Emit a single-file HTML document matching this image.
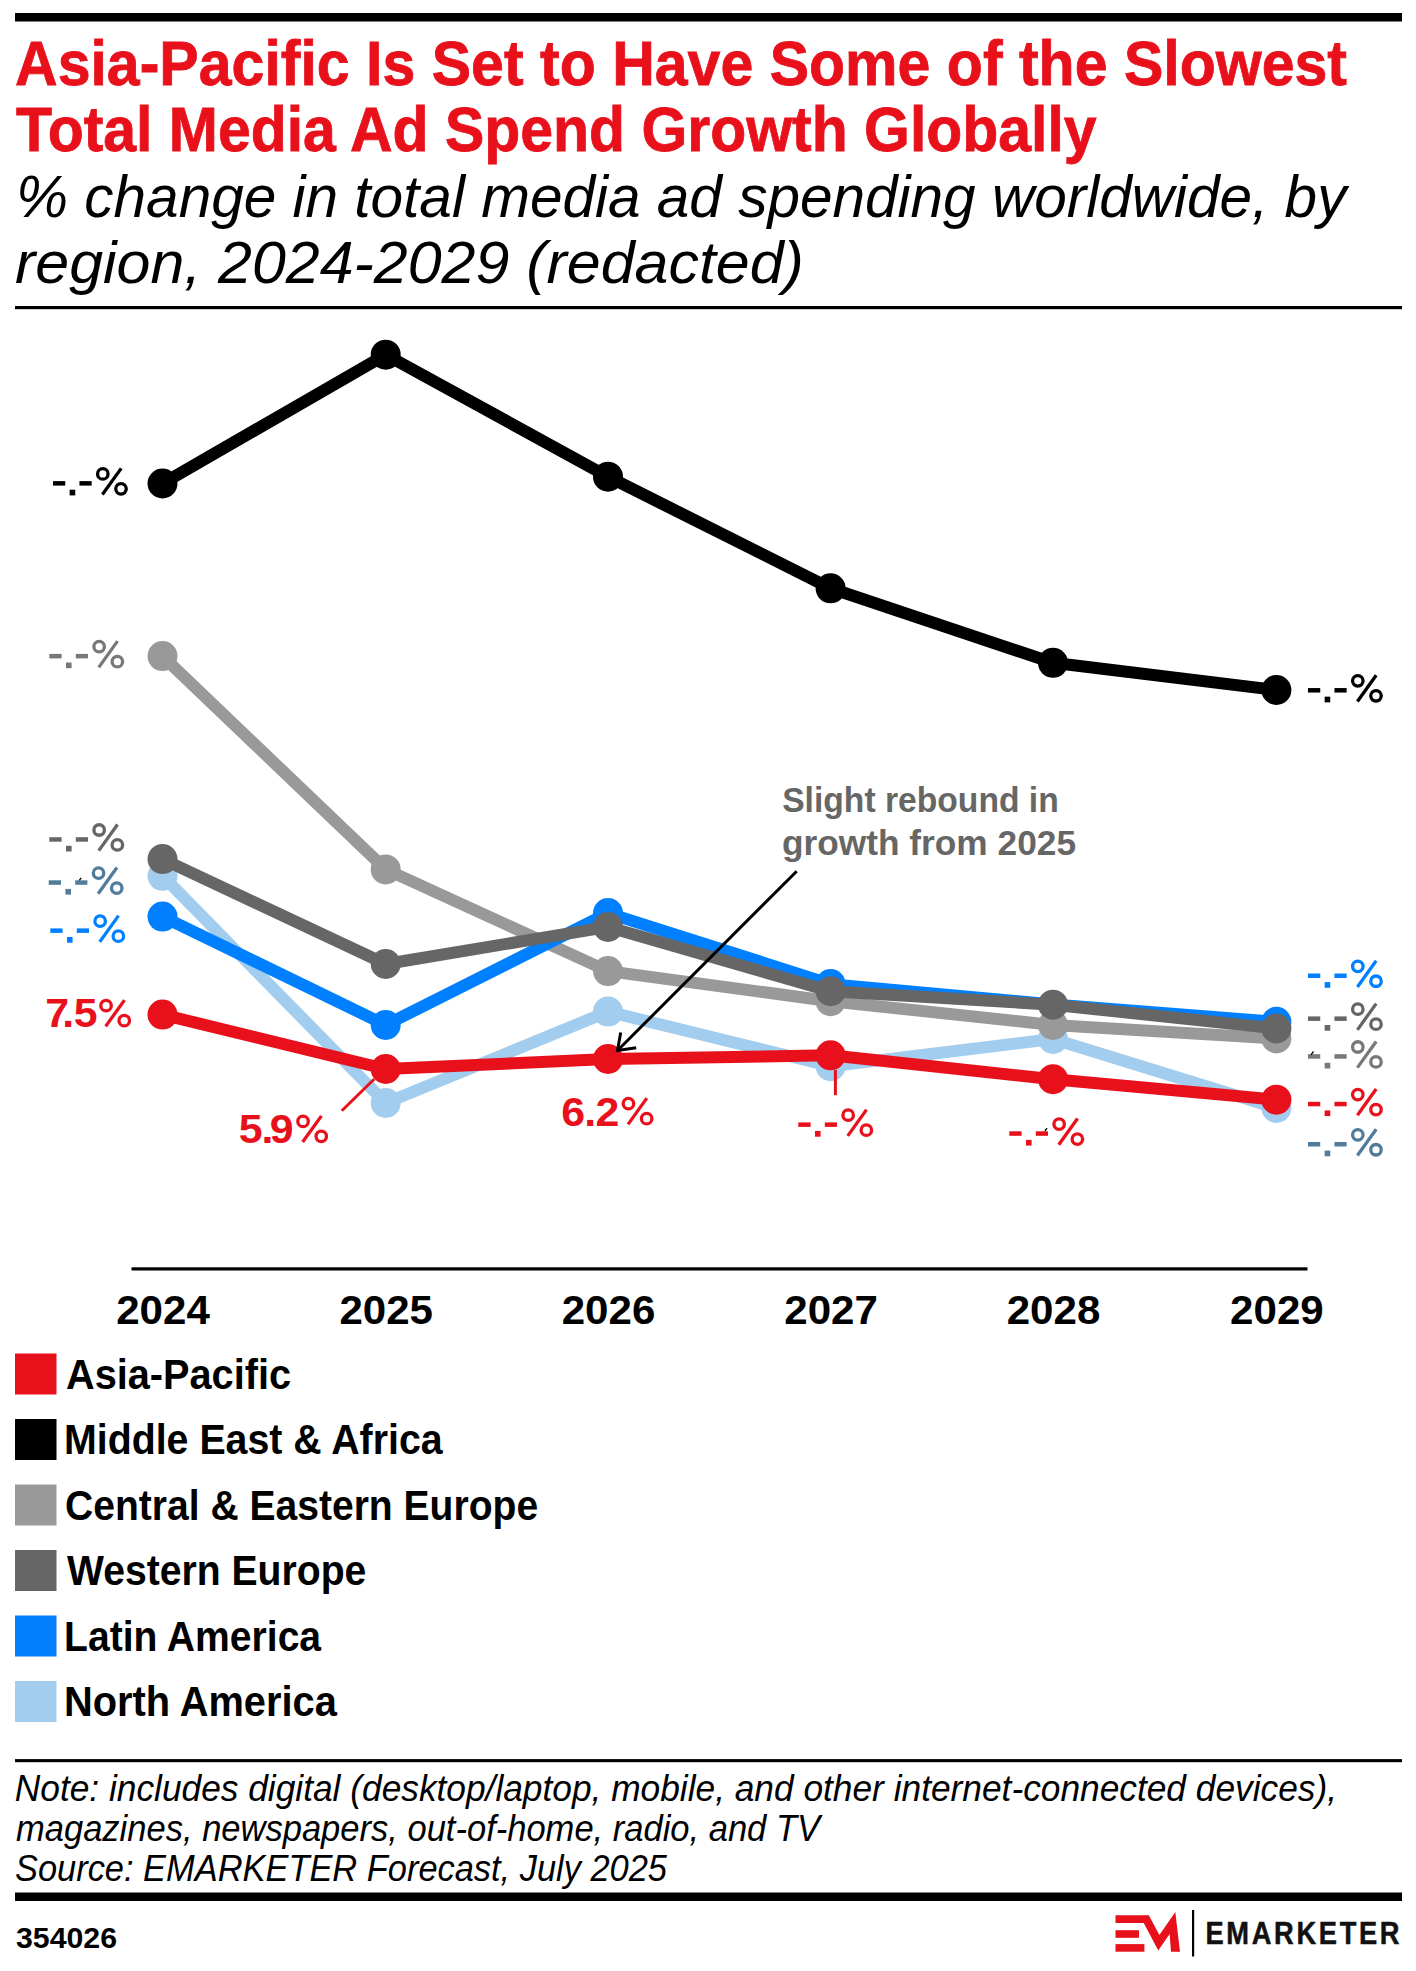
<!DOCTYPE html>
<html><head><meta charset="utf-8"><style>
html,body{margin:0;padding:0;background:#fff;overflow:hidden;}
svg{display:block;}
text{font-family:"Liberation Sans",sans-serif;}
</style></head><body>
<svg width="1416" height="1971" viewBox="0 0 1416 1971">
<rect x="0" y="0" width="1416" height="1971" fill="#fff"/>

<rect x="15" y="13" width="1387" height="8.5" fill="#000"/>
<rect x="15" y="306" width="1387" height="3.2" fill="#000"/>
<rect x="131.5" y="1267.3" width="1176" height="3.2" fill="#000"/>
<rect x="15" y="1759.1" width="1387" height="3.1" fill="#000"/>
<rect x="15" y="1892.5" width="1387" height="8.5" fill="#000"/>

<polyline points="162.5,875.8 385.7,1103.0 608.0,1011.6 830.6,1066.2 1053.0,1039.0 1276.4,1108.0" fill="none" stroke="#a3cdee" stroke-width="12" stroke-linejoin="round"/>
<circle cx="162.5" cy="875.8" r="15" fill="#a3cdee"/>
<circle cx="385.7" cy="1103.0" r="15" fill="#a3cdee"/>
<circle cx="608.0" cy="1011.6" r="15" fill="#a3cdee"/>
<circle cx="830.6" cy="1066.2" r="15" fill="#a3cdee"/>
<circle cx="1053.0" cy="1039.0" r="15" fill="#a3cdee"/>
<circle cx="1276.4" cy="1108.0" r="15" fill="#a3cdee"/>
<polyline points="162.5,656.1 385.7,869.4 608.0,971.1 830.6,1001.2 1053.0,1025.0 1276.4,1038.4" fill="none" stroke="#999999" stroke-width="12" stroke-linejoin="round"/>
<circle cx="162.5" cy="656.1" r="15" fill="#999999"/>
<circle cx="385.7" cy="869.4" r="15" fill="#999999"/>
<circle cx="608.0" cy="971.1" r="15" fill="#999999"/>
<circle cx="830.6" cy="1001.2" r="15" fill="#999999"/>
<circle cx="1053.0" cy="1025.0" r="15" fill="#999999"/>
<circle cx="1276.4" cy="1038.4" r="15" fill="#999999"/>
<polyline points="162.5,916.6 385.7,1025.0 608.0,913.1 830.6,984.1 1053.0,1004.5 1276.4,1021.8" fill="none" stroke="#0080ff" stroke-width="12" stroke-linejoin="round"/>
<circle cx="162.5" cy="916.6" r="15" fill="#0080ff"/>
<circle cx="385.7" cy="1025.0" r="15" fill="#0080ff"/>
<circle cx="608.0" cy="913.1" r="15" fill="#0080ff"/>
<circle cx="830.6" cy="984.1" r="15" fill="#0080ff"/>
<circle cx="1053.0" cy="1004.5" r="14" fill="#0080ff"/>
<circle cx="1276.4" cy="1021.8" r="15" fill="#0080ff"/>
<polyline points="162.5,859.1 385.7,964.0 608.0,926.9 830.6,991.2 1053.0,1004.7 1276.4,1028.5" fill="none" stroke="#666666" stroke-width="12" stroke-linejoin="round"/>
<circle cx="162.5" cy="859.1" r="15" fill="#666666"/>
<circle cx="385.7" cy="964.0" r="15" fill="#666666"/>
<circle cx="608.0" cy="926.9" r="15" fill="#666666"/>
<circle cx="830.6" cy="991.2" r="15" fill="#666666"/>
<circle cx="1053.0" cy="1004.7" r="15" fill="#666666"/>
<circle cx="1276.4" cy="1028.5" r="15" fill="#666666"/>
<polyline points="162.5,483.5 385.7,354.7 608.0,476.7 830.6,588.3 1053.0,662.8 1276.4,690.0" fill="none" stroke="#000000" stroke-width="12" stroke-linejoin="round"/>
<circle cx="162.5" cy="483.5" r="15" fill="#000000"/>
<circle cx="385.7" cy="354.7" r="15" fill="#000000"/>
<circle cx="608.0" cy="476.7" r="15" fill="#000000"/>
<circle cx="830.6" cy="588.3" r="15" fill="#000000"/>
<circle cx="1053.0" cy="662.8" r="15" fill="#000000"/>
<circle cx="1276.4" cy="690.0" r="15" fill="#000000"/>
<polyline points="162.5,1014.6 385.7,1069.0 608.0,1059.0 830.6,1055.3 1053.0,1079.2 1276.4,1099.7" fill="none" stroke="#e8111b" stroke-width="12" stroke-linejoin="round"/>
<circle cx="162.5" cy="1014.6" r="15" fill="#e8111b"/>
<circle cx="385.7" cy="1069.0" r="15" fill="#e8111b"/>
<circle cx="608.0" cy="1059.0" r="15" fill="#e8111b"/>
<circle cx="830.6" cy="1055.3" r="15" fill="#e8111b"/>
<circle cx="1053.0" cy="1079.2" r="15" fill="#e8111b"/>
<circle cx="1276.4" cy="1099.7" r="15" fill="#e8111b"/>

<line x1="341.8" y1="1110.7" x2="374.3" y2="1079" stroke="#e8111b" stroke-width="3"/>
<line x1="835.4" y1="1070" x2="835.4" y2="1095.2" stroke="#e8111b" stroke-width="3"/>
<polyline points="796.7,871.2 617.5,1050.5" fill="none" stroke="#000" stroke-width="3"/>
<polyline points="620.7,1032.4 617.5,1050.5 636.2,1047.8" fill="none" stroke="#000" stroke-width="3"/>

<rect x="15" y="1353.5" width="41.5" height="41" fill="#e8111b"/><rect x="15" y="1419.0" width="41.5" height="41" fill="#000"/><rect x="15" y="1484.5" width="41.5" height="41" fill="#999999"/><rect x="15" y="1550.0" width="41.5" height="41" fill="#666666"/><rect x="15" y="1615.5" width="41.5" height="41" fill="#0080ff"/><rect x="15" y="1681.0" width="41.5" height="41" fill="#a3cdee"/>

<polygon fill="#e8111b" points="1115.5,1915.2 1148.8,1915.2 1159.4,1935 1175.3,1912 1180,1951.7 1171,1951.7 1169.6,1933.9 1158.3,1950.5 1143.7,1923 1115.5,1923"/>
<rect x="1115.5" y="1930.2" width="23.5" height="7.6" fill="#e8111b"/>
<rect x="1115.5" y="1944.1" width="28.9" height="7.6" fill="#e8111b"/>
<rect x="1192" y="1910" width="2.2" height="46.5" fill="#000"/>

<text x="15.00" y="84.50" font-size="62.5" fill="#e8111b" font-weight="bold" font-style="normal" textLength="1332.00" lengthAdjust="spacingAndGlyphs" stroke="#e8111b" stroke-width="0.8">Asia-Pacific Is Set to Have Some of the Slowest</text>
<text x="16.00" y="150.60" font-size="62.5" fill="#e8111b" font-weight="bold" font-style="normal" textLength="1080.60" lengthAdjust="spacingAndGlyphs" stroke="#e8111b" stroke-width="0.8">Total Media Ad Spend Growth Globally</text>
<text x="16.00" y="216.80" font-size="58.3" fill="#000" font-weight="normal" font-style="italic" textLength="1330.40" lengthAdjust="spacingAndGlyphs" >% change in total media ad spending worldwide, by</text>
<text x="15.00" y="283.00" font-size="58.3" fill="#000" font-weight="normal" font-style="italic" textLength="788.83" lengthAdjust="spacingAndGlyphs" >region, 2024-2029 (redacted)</text>
<text x="782.20" y="811.80" font-size="35.5" fill="#666666" font-weight="bold" font-style="normal" textLength="276.53" lengthAdjust="spacingAndGlyphs" >Slight rebound in</text>
<text x="782.00" y="854.70" font-size="35.5" fill="#666666" font-weight="bold" font-style="normal" textLength="294.01" lengthAdjust="spacingAndGlyphs" >growth from 2025</text>
<text x="14.80" y="1801.10" font-size="36.3" fill="#000" font-weight="normal" font-style="italic" textLength="1322.22" lengthAdjust="spacingAndGlyphs" >Note: includes digital (desktop/laptop, mobile, and other internet-connected devices),</text>
<text x="16.00" y="1841.10" font-size="36.3" fill="#000" font-weight="normal" font-style="italic" textLength="804.01" lengthAdjust="spacingAndGlyphs" >magazines, newspapers, out-of-home, radio, and TV</text>
<text x="15.00" y="1881.10" font-size="36.3" fill="#000" font-weight="normal" font-style="italic" textLength="652.00" lengthAdjust="spacingAndGlyphs" >Source: EMARKETER Forecast, July 2025</text>
<text x="16.00" y="1947.50" font-size="29.1" fill="#000" font-weight="bold" font-style="normal" textLength="101.01" lengthAdjust="spacingAndGlyphs" >354026</text>
<text x="1205.40" y="1944.20" font-size="30.5" fill="#111111" font-weight="bold" font-style="normal" textLength="196.83" lengthAdjust="spacingAndGlyphs" letter-spacing="3" stroke="#111111" stroke-width="0.5">EMARKETER</text>
<text x="66.00" y="1388.80" font-size="42" fill="#000" font-weight="bold" font-style="normal" textLength="225.04" lengthAdjust="spacingAndGlyphs" >Asia-Pacific</text>
<text x="64.00" y="1454.30" font-size="42" fill="#000" font-weight="bold" font-style="normal" textLength="378.61" lengthAdjust="spacingAndGlyphs" >Middle East &amp; Africa</text>
<text x="65.00" y="1519.80" font-size="42" fill="#000" font-weight="bold" font-style="normal" textLength="473.11" lengthAdjust="spacingAndGlyphs" >Central &amp; Eastern Europe</text>
<text x="67.00" y="1585.30" font-size="42" fill="#000" font-weight="bold" font-style="normal" textLength="299.31" lengthAdjust="spacingAndGlyphs" >Western Europe</text>
<text x="64.00" y="1650.80" font-size="42" fill="#000" font-weight="bold" font-style="normal" textLength="257.12" lengthAdjust="spacingAndGlyphs" >Latin America</text>
<text x="64.00" y="1716.30" font-size="42" fill="#000" font-weight="bold" font-style="normal" textLength="272.82" lengthAdjust="spacingAndGlyphs" >North America</text>
<text x="163.00" y="1324" font-size="40.3" fill="#000" font-weight="bold" text-anchor="middle" textLength="93.6" lengthAdjust="spacingAndGlyphs">2024</text>
<text x="386.20" y="1324" font-size="40.3" fill="#000" font-weight="bold" text-anchor="middle" textLength="93.6" lengthAdjust="spacingAndGlyphs">2025</text>
<text x="608.50" y="1324" font-size="40.3" fill="#000" font-weight="bold" text-anchor="middle" textLength="93.6" lengthAdjust="spacingAndGlyphs">2026</text>
<text x="831.10" y="1324" font-size="40.3" fill="#000" font-weight="bold" text-anchor="middle" textLength="93.6" lengthAdjust="spacingAndGlyphs">2027</text>
<text x="1053.50" y="1324" font-size="40.3" fill="#000" font-weight="bold" text-anchor="middle" textLength="93.6" lengthAdjust="spacingAndGlyphs">2028</text>
<text x="1276.90" y="1324" font-size="40.3" fill="#000" font-weight="bold" text-anchor="middle" textLength="93.6" lengthAdjust="spacingAndGlyphs">2029</text>
<circle cx="102.80" cy="473.90" r="5.25" fill="none" stroke="#000" stroke-width="3.3"/><circle cx="121.00" cy="488.85" r="5.25" fill="none" stroke="#000" stroke-width="3.3"/><line x1="102.40" y1="494.54" x2="121.20" y2="468.34" stroke="#000" stroke-width="3.3"/><rect x="52.95" y="481.10" width="12.3" height="4.5" fill="#000"/><rect x="69.65" y="489.70" width="5.6" height="5.7" fill="#000"/><rect x="79.45" y="481.10" width="12.2" height="4.5" fill="#000"/>
<circle cx="99.15" cy="646.70" r="5.25" fill="none" stroke="#787878" stroke-width="3.3"/><circle cx="117.35" cy="661.65" r="5.25" fill="none" stroke="#787878" stroke-width="3.3"/><line x1="98.75" y1="667.34" x2="117.55" y2="641.14" stroke="#787878" stroke-width="3.3"/><rect x="49.30" y="653.90" width="12.3" height="4.5" fill="#787878"/><rect x="66.00" y="662.50" width="5.6" height="5.7" fill="#787878"/><rect x="75.80" y="653.90" width="12.2" height="4.5" fill="#787878"/>
<circle cx="99.15" cy="830.00" r="5.25" fill="none" stroke="#666666" stroke-width="3.3"/><circle cx="117.35" cy="844.95" r="5.25" fill="none" stroke="#666666" stroke-width="3.3"/><line x1="98.75" y1="850.64" x2="117.55" y2="824.44" stroke="#666666" stroke-width="3.3"/><rect x="49.30" y="837.20" width="12.3" height="4.5" fill="#666666"/><rect x="66.00" y="845.80" width="5.6" height="5.7" fill="#666666"/><rect x="75.80" y="837.20" width="12.2" height="4.5" fill="#666666"/>
<circle cx="98.55" cy="873.10" r="5.25" fill="none" stroke="#527c9c" stroke-width="3.3"/><circle cx="116.75" cy="888.05" r="5.25" fill="none" stroke="#527c9c" stroke-width="3.3"/><line x1="98.15" y1="893.74" x2="116.95" y2="867.54" stroke="#527c9c" stroke-width="3.3"/><rect x="48.70" y="880.30" width="12.3" height="4.5" fill="#527c9c"/><rect x="65.40" y="888.90" width="5.6" height="5.7" fill="#527c9c"/><rect x="75.20" y="880.30" width="12.2" height="4.5" fill="#527c9c"/>
<circle cx="100.15" cy="921.20" r="5.25" fill="none" stroke="#0080ff" stroke-width="3.3"/><circle cx="118.35" cy="936.15" r="5.25" fill="none" stroke="#0080ff" stroke-width="3.3"/><line x1="99.75" y1="941.84" x2="118.55" y2="915.64" stroke="#0080ff" stroke-width="3.3"/><rect x="50.30" y="928.40" width="12.3" height="4.5" fill="#0080ff"/><rect x="67.00" y="937.00" width="5.6" height="5.7" fill="#0080ff"/><rect x="76.80" y="928.40" width="12.2" height="4.5" fill="#0080ff"/>
<circle cx="848.15" cy="1115.20" r="5.25" fill="none" stroke="#e8111b" stroke-width="3.3"/><circle cx="866.35" cy="1130.15" r="5.25" fill="none" stroke="#e8111b" stroke-width="3.3"/><line x1="847.75" y1="1135.84" x2="866.55" y2="1109.64" stroke="#e8111b" stroke-width="3.3"/><rect x="798.30" y="1122.40" width="12.3" height="4.5" fill="#e8111b"/><rect x="815.00" y="1131.00" width="5.6" height="5.7" fill="#e8111b"/><rect x="824.80" y="1122.40" width="12.2" height="4.5" fill="#e8111b"/>
<circle cx="1059.15" cy="1124.10" r="5.25" fill="none" stroke="#e8111b" stroke-width="3.3"/><circle cx="1077.35" cy="1139.05" r="5.25" fill="none" stroke="#e8111b" stroke-width="3.3"/><line x1="1058.75" y1="1144.74" x2="1077.55" y2="1118.54" stroke="#e8111b" stroke-width="3.3"/><rect x="1009.30" y="1131.30" width="12.3" height="4.5" fill="#e8111b"/><rect x="1026.00" y="1139.90" width="5.6" height="5.7" fill="#e8111b"/><rect x="1035.80" y="1131.30" width="12.2" height="4.5" fill="#e8111b"/>
<circle cx="1357.80" cy="680.86" r="5.25" fill="none" stroke="#000" stroke-width="3.3"/><circle cx="1376.00" cy="695.81" r="5.25" fill="none" stroke="#000" stroke-width="3.3"/><line x1="1357.40" y1="701.50" x2="1376.20" y2="675.30" stroke="#000" stroke-width="3.3"/><rect x="1307.95" y="688.06" width="12.3" height="4.5" fill="#000"/><rect x="1324.65" y="696.66" width="5.6" height="5.7" fill="#000"/><rect x="1334.45" y="688.06" width="12.2" height="4.5" fill="#000"/>
<circle cx="1357.80" cy="966.30" r="5.25" fill="none" stroke="#0080ff" stroke-width="3.3"/><circle cx="1376.00" cy="981.25" r="5.25" fill="none" stroke="#0080ff" stroke-width="3.3"/><line x1="1357.40" y1="986.94" x2="1376.20" y2="960.74" stroke="#0080ff" stroke-width="3.3"/><rect x="1307.95" y="973.50" width="12.3" height="4.5" fill="#0080ff"/><rect x="1324.65" y="982.10" width="5.6" height="5.7" fill="#0080ff"/><rect x="1334.45" y="973.50" width="12.2" height="4.5" fill="#0080ff"/>
<circle cx="1357.80" cy="1009.20" r="5.25" fill="none" stroke="#666666" stroke-width="3.3"/><circle cx="1376.00" cy="1024.15" r="5.25" fill="none" stroke="#666666" stroke-width="3.3"/><line x1="1357.40" y1="1029.84" x2="1376.20" y2="1003.64" stroke="#666666" stroke-width="3.3"/><rect x="1307.95" y="1016.40" width="12.3" height="4.5" fill="#666666"/><rect x="1324.65" y="1025.00" width="5.6" height="5.7" fill="#666666"/><rect x="1334.45" y="1016.40" width="12.2" height="4.5" fill="#666666"/>
<circle cx="1357.80" cy="1047.00" r="5.25" fill="none" stroke="#787878" stroke-width="3.3"/><circle cx="1376.00" cy="1061.95" r="5.25" fill="none" stroke="#787878" stroke-width="3.3"/><line x1="1357.40" y1="1067.64" x2="1376.20" y2="1041.44" stroke="#787878" stroke-width="3.3"/><rect x="1307.95" y="1054.20" width="12.3" height="4.5" fill="#787878"/><rect x="1324.65" y="1062.80" width="5.6" height="5.7" fill="#787878"/><rect x="1334.45" y="1054.20" width="12.2" height="4.5" fill="#787878"/>
<circle cx="1357.80" cy="1094.60" r="5.25" fill="none" stroke="#e8111b" stroke-width="3.3"/><circle cx="1376.00" cy="1109.55" r="5.25" fill="none" stroke="#e8111b" stroke-width="3.3"/><line x1="1357.40" y1="1115.24" x2="1376.20" y2="1089.04" stroke="#e8111b" stroke-width="3.3"/><rect x="1307.95" y="1101.80" width="12.3" height="4.5" fill="#e8111b"/><rect x="1324.65" y="1110.40" width="5.6" height="5.7" fill="#e8111b"/><rect x="1334.45" y="1101.80" width="12.2" height="4.5" fill="#e8111b"/>
<circle cx="1357.80" cy="1134.80" r="5.25" fill="none" stroke="#527c9c" stroke-width="3.3"/><circle cx="1376.00" cy="1149.75" r="5.25" fill="none" stroke="#527c9c" stroke-width="3.3"/><line x1="1357.40" y1="1155.44" x2="1376.20" y2="1129.24" stroke="#527c9c" stroke-width="3.3"/><rect x="1307.95" y="1142.00" width="12.3" height="4.5" fill="#527c9c"/><rect x="1324.65" y="1150.60" width="5.6" height="5.7" fill="#527c9c"/><rect x="1334.45" y="1142.00" width="12.2" height="4.5" fill="#527c9c"/>
<text transform="translate(45.26,1027.1) scale(1.07,1)" x="0" y="0" font-size="40.1" fill="#e8111b" font-weight="bold">7</text><text transform="translate(62.19,1027.1) scale(1.07,1)" x="0" y="0" font-size="40.1" fill="#e8111b" font-weight="bold">.</text><text transform="translate(73.68,1027.1) scale(1.07,1)" x="0" y="0" font-size="40.1" fill="#e8111b" font-weight="bold">5</text><circle cx="106.05" cy="1005.70" r="5.25" fill="none" stroke="#e8111b" stroke-width="3.3"/><circle cx="124.25" cy="1020.65" r="5.25" fill="none" stroke="#e8111b" stroke-width="3.3"/><line x1="105.65" y1="1026.34" x2="124.45" y2="1000.14" stroke="#e8111b" stroke-width="3.3"/>
<text transform="translate(238.78,1143) scale(1.07,1)" x="0" y="0" font-size="40.1" fill="#e8111b" font-weight="bold">5</text><text transform="translate(261.49,1143) scale(1.07,1)" x="0" y="0" font-size="40.1" fill="#e8111b" font-weight="bold">.</text><text transform="translate(269.81,1143) scale(1.07,1)" x="0" y="0" font-size="40.1" fill="#e8111b" font-weight="bold">9</text><circle cx="303.05" cy="1121.40" r="5.25" fill="none" stroke="#e8111b" stroke-width="3.3"/><circle cx="321.25" cy="1136.35" r="5.25" fill="none" stroke="#e8111b" stroke-width="3.3"/><line x1="302.65" y1="1142.04" x2="321.45" y2="1115.84" stroke="#e8111b" stroke-width="3.3"/>
<text transform="translate(561.13,1125.5) scale(1.07,1)" x="0" y="0" font-size="40.1" fill="#e8111b" font-weight="bold">6</text><text transform="translate(584.19,1125.5) scale(1.07,1)" x="0" y="0" font-size="40.1" fill="#e8111b" font-weight="bold">.</text><text transform="translate(595.51,1125.5) scale(1.07,1)" x="0" y="0" font-size="40.1" fill="#e8111b" font-weight="bold">2</text><circle cx="628.45" cy="1103.70" r="5.25" fill="none" stroke="#e8111b" stroke-width="3.3"/><circle cx="646.65" cy="1118.65" r="5.25" fill="none" stroke="#e8111b" stroke-width="3.3"/><line x1="628.05" y1="1124.34" x2="646.85" y2="1098.14" stroke="#e8111b" stroke-width="3.3"/>
<path d="M79.3,880.3 L81.2,877.8 M1311,1054.8 L1313.5,1051.5 M1045,1131 L1047,1128.2" stroke="#000" stroke-width="1.3" fill="none"/>
</svg>
</body></html>
